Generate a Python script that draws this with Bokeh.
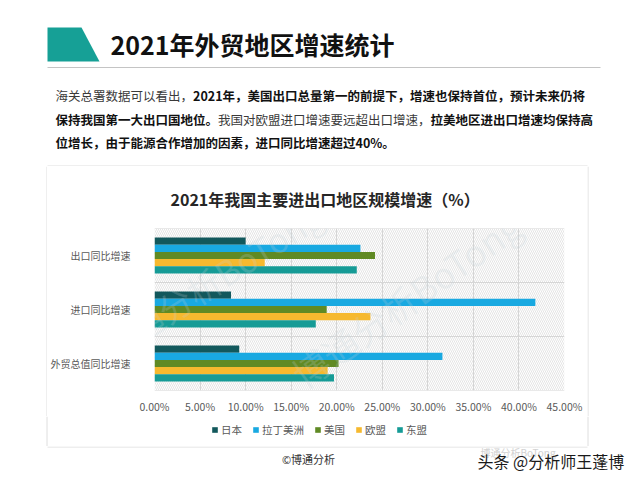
from bokeh.plotting import figure
from bokeh.models import (Range1d, FactorRange, FixedTicker, Span, BoxAnnotation,
                          Legend, LegendItem, Label, ColumnDataSource)
from bokeh.transform import dodge
from bokeh.layouts import column, row
from bokeh.core.properties import value
from bokeh.embed import file_html
from bokeh.resources import INLINE

# ---------------- data ----------------
categories = ["出口同比增速", "进口同比增速", "外贸总值同比增速"]  # top -> bottom
series_names = ["日本", "拉丁美洲", "美国", "欧盟", "东盟"]
japan = [10.0, 8.4, 9.3]
latin_america = [22.6, 41.8, 31.6]
usa = [24.2, 18.9, 20.2]
eu = [12.1, 23.7, 19.0]
asean = [22.2, 17.7, 19.7]
x_tick_values = [0, 5, 10, 15, 20, 25, 30, 35, 40, 45]
x_tick_labels = ["0.00%", "5.00%", "10.00%", "15.00%", "20.00%", "25.00%",
                 "30.00%", "35.00%", "40.00%", "45.00%"]

page_title = "2021年外贸地区增速统计"
chart_title = "2021年我国主要进出口地区规模增速（%）"

colors = ["#12585c", "#19a9e1", "#608a24", "#f6b92f", "#169b96"]
FONT_NAME = "Noto Sans CJK SC"
FONT = value(FONT_NAME)
BOX = "#dedede"


def pixel_fig(w, h):
    f = figure(width=w, height=h, x_range=Range1d(0, w), y_range=Range1d(h, 0),
               x_axis_type=None, y_axis_type=None, output_backend="svg",
               toolbar_location=None, min_border=0, frame_align=False)
    f.grid.visible = False
    f.outline_line_color = None
    return f


# ---------------- header ----------------
hdr = pixel_fig(640, 166)
hdr.patch([47, 81, 99, 47], [27, 27, 61, 61], color="#16a096", line_color=None)
hdr.segment(x0=[47], y0=[67], x1=[600], y1=[67], line_color="#c4c4c4", line_width=1)
hdr.segment(x0=[47], y0=[165.5], x1=[587], y1=[165.5], line_color=BOX, line_width=1)
hdr.text(x=[110], y=[43], text=[page_title], text_font=FONT, text_font_style="bold",
         text_font_size="25px", text_baseline="middle", text_color="#111111")

fs = 12.5
para_regular = [("海关总署数据可以看出，", 55, 95),
                ("我国对欧盟进口增速要远超出口增速，", 55 + 13 * fs, 118.5)]
para_bold = [("2021年，美国出口总量第一的前提下，增速也保持首位，预计未来仍将", 55 + 11 * fs, 95),
             ("保持我国第一大出口国地位。", 55, 118.5),
             ("拉美地区进出口增速均保持高", 55 + 30 * fs, 118.5),
             ("位增长，由于能源合作增加的因素，进口同比增速超过40%。", 55, 142)]
hdr.text(x=[s[1] for s in para_regular], y=[s[2] for s in para_regular],
         text=[s[0] for s in para_regular], text_font=FONT, text_font_size=f"{fs}px",
         text_baseline="middle", text_color="#3a3a3a")
hdr.text(x=[s[1] for s in para_bold], y=[s[2] for s in para_bold],
         text=[s[0] for s in para_bold], text_font=FONT, text_font_style="bold",
         text_font_size=f"{fs}px", text_baseline="middle", text_color="#111111")

# ---------------- side strips (box border) ----------------
CH = 250
left_strip = pixel_fig(47, CH)
left_strip.segment(x0=[46.5], y0=[0], x1=[46.5], y1=[CH], line_color=BOX, line_width=1)
right_strip = pixel_fig(53, CH)
right_strip.segment(x0=[0.5], y0=[0], x1=[0.5], y1=[CH], line_color=BOX, line_width=1)

# ---------------- chart ----------------
cats_bottom_up = categories[::-1]
src = ColumnDataSource(dict(cat=categories, s0=japan, s1=latin_america, s2=usa, s3=eu, s4=asean))

p = figure(width=540, height=CH, x_range=Range1d(0, 45), y_range=FactorRange(factors=cats_bottom_up),
           output_backend="svg", toolbar_location=None,
           min_border_left=103, min_border_right=23, min_border_top=56, min_border_bottom=24,
           frame_align=False)
p.outline_line_color = None
p.background_fill_color = "white"

p.add_layout(BoxAnnotation(fill_alpha=0, line_color=None, hatch_pattern="left_diagonal_line",
                           hatch_color="#d2d2d2", hatch_weight=0.6, hatch_scale=4,
                           level="underlay"))

bar_h = 0.1325
offsets = [2 * bar_h, bar_h, 0, -bar_h, -2 * bar_h]
for i, (col, off) in enumerate(zip(colors, offsets)):
    p.hbar(y=dodge("cat", off, range=p.y_range), left=0, right=f"s{i}", height=bar_h,
           source=src, fill_color=col, line_color=None)

p.xgrid.ticker = FixedTicker(ticks=x_tick_values)
p.xgrid.grid_line_color = "#d6d6d6"
p.ygrid.visible = False
for loc in [0, 1, 2, 3]:
    p.add_layout(Span(location=loc, dimension="width", line_color="#d6d6d6", line_width=1))

p.xaxis.ticker = FixedTicker(ticks=x_tick_values)
p.xaxis.major_label_overrides = {v: lab for v, lab in zip(x_tick_values, x_tick_labels)}
for ax in (p.xaxis, p.yaxis):
    ax.axis_line_color = None
    ax.major_tick_line_color = None
    ax.minor_tick_line_color = None
    ax.major_label_text_font = FONT_NAME
    ax.major_label_text_color = "#595959"
p.xaxis.major_label_text_font_size = "10.5px"
p.xaxis.major_label_standoff = 2
p.yaxis.major_label_text_font_size = "10px"
p.yaxis.major_label_standoff = 18

p.title.text = chart_title
p.title.text_font = FONT_NAME
p.title.text_font_style = "bold"
p.title.text_font_size = "16px"
p.title.text_color = "#262626"
p.title.align = "left"
p.title.offset = 16
p.title.standoff = 36

wm_color = "#c5d2da"
p.add_layout(Label(x=-38, y=20, x_units="screen", y_units="screen", text="博通分析BoTong",
                   angle=0.57, text_font=FONT_NAME, text_font_size="34px",
                   text_color=wm_color, text_alpha=0.22))
p.add_layout(Label(x=156, y=-8, x_units="screen", y_units="screen", text="博通分析BoTong",
                   angle=0.62, text_font=FONT_NAME, text_font_size="36px",
                   text_color=wm_color, text_alpha=0.22))

# ---------------- legend strip (inside the box) ----------------
LH = 30
legfig = pixel_fig(640, LH)
legfig.segment(x0=[46.5, 587.5], y0=[0, 0], x1=[46.5, 587.5], y1=[LH, LH],
               line_color=BOX, line_width=1)
items = []
for name, col in zip(series_names, colors):
    # off-canvas proxy so the legend has a swatch to draw
    r = legfig.rect(x=[-50], y=[-50], width=1, height=1, fill_color=col, line_color=None)
    items.append(LegendItem(label=name, renderers=[r]))
legend = Legend(items=items, orientation="horizontal", location=(211, 9),
                label_text_font=FONT_NAME, label_text_font_size="10.5px",
                label_text_color="#595959", glyph_width=7, glyph_height=7,
                label_standoff=3, spacing=10, padding=2, margin=0, label_height=12,
                border_line_color=None, background_fill_alpha=0)
legfig.add_layout(legend)

# ---------------- footer ----------------
ftr = pixel_fig(640, 34)
ftr.segment(x0=[47], y0=[0.5], x1=[587], y1=[0.5], line_color=BOX, line_width=1)
ftr.text(x=[308], y=[12], text=["©博通分析"], text_font=FONT, text_font_size="11px",
         text_align="center", text_baseline="middle", text_color="#333333")
ftr.text(x=[480], y=[6], text=["博通分析BoTong"], text_font=FONT, text_font_size="10px",
         text_baseline="middle", text_color="#d2d2d2")
ftr.text(x=[477], y=[14], text=["头条 @分析师王蓬博"], text_font=FONT, text_font_size="16px",
         text_baseline="middle", text_color="#1a1a1a")

layout = column(hdr, row(left_strip, p, right_strip, spacing=0), legfig, ftr, spacing=0)
open("out.html", "w").write(file_html(layout, INLINE))
